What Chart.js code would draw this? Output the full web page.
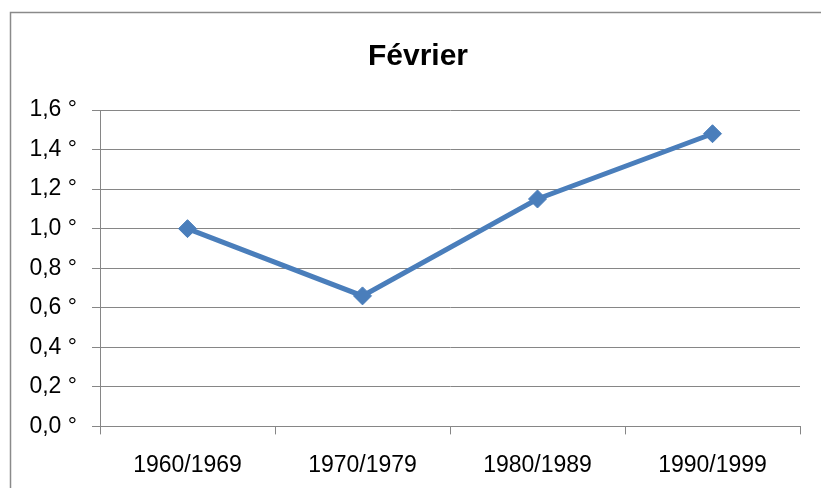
<!DOCTYPE html>
<html lang="fr">
<head>
<meta charset="utf-8">
<title>Février</title>
<script src="https://cdn.jsdelivr.net/npm/chart.js@4.4.1/dist/chart.umd.min.js"></script>
<style>
    html, body { margin: 0; padding: 0; background: #ffffff; overflow: hidden; }
    #fevrierChart { display: block; }
</style>
</head>
<body>
<canvas id="fevrierChart" width="826" height="488"></canvas>
<script>
// Data: average temperature gap per decade
const decades = ["1960/1969", "1970/1979", "1980/1989", "1990/1999"];
const fevrierValues = [1.0, 0.66, 1.15, 1.48];
const yTicks = [0, 0.2, 0.4, 0.6, 0.8, 1.0, 1.2, 1.4, 1.6];

const FONT = "'Liberation Sans', Arial, sans-serif";
const GRID_GREY = "#868686";
const LINE_BLUE = "#4A7EBB";

// Grey frame around the whole chart (runs off the right/bottom edge)
const frameBorder = {
    id: "frameBorder",
    beforeDraw(chart) {
        const ctx = chart.ctx;
        ctx.save();
        ctx.strokeStyle = "#8a8a8a";
        ctx.lineWidth = 1.5;
        ctx.beginPath();
        ctx.moveTo(10.5, chart.height + 2);
        ctx.lineTo(10.5, 12.5);
        ctx.lineTo(chart.width + 2, 12.5);
        ctx.stroke();
        ctx.restore();
    }
};

function createFevrierChart() {
    const ctx = document.getElementById("fevrierChart").getContext("2d");

    new Chart(ctx, {
        type: "line",
        data: {
            labels: decades,
            datasets: [{
                label: "Février",
                data: fevrierValues,
                yAxisID: "y",
                borderColor: LINE_BLUE,
                backgroundColor: LINE_BLUE,
                borderWidth: 5,
                tension: 0,
                pointStyle: "rectRot",
                pointRadius: 9,
                pointBorderWidth: 1,
                pointBackgroundColor: LINE_BLUE,
                pointBorderColor: LINE_BLUE
            }]
        },
        options: {
            responsive: false,
            devicePixelRatio: 1,
            animation: false,
            layout: {
                padding: { left: 10, right: 0, top: 0, bottom: -8 }
            },
            plugins: {
                legend: { display: false },
                tooltip: { enabled: false },
                title: {
                    display: true,
                    text: "Février",
                    color: "#000000",
                    font: { family: FONT, size: 30, weight: "bold", lineHeight: 1.2 },
                    padding: { top: 39, bottom: 35 }
                }
            },
            scales: {
                x: {
                    offset: true,
                    grid: {
                        offset: true,
                        drawOnChartArea: false,
                        drawTicks: true,
                        tickLength: 8,
                        color: GRID_GREY
                    },
                    border: { display: true, color: GRID_GREY, width: 1 },
                    ticks: {
                        color: "#000000",
                        padding: 17,
                        maxRotation: 0,
                        font: { family: FONT, size: 23, lineHeight: 1.2 }
                    }
                },
                y: {
                    min: yTicks[0],
                    max: yTicks[yTicks.length - 1],
                    afterFit(scale) { scale.width = 90; },
                    afterBuildTicks(scale) {
                        scale.ticks = yTicks.map(v => ({ value: v }));
                    },
                    grid: {
                        color: GRID_GREY,
                        lineWidth: 1,
                        drawTicks: true,
                        tickLength: 8
                    },
                    border: { display: true, color: GRID_GREY, width: 1 },
                    ticks: {
                        color: "#000000",
                        padding: 15,
                        font: { family: FONT, size: 23 },
                        callback: function(value) {
                            return value.toFixed(1).replace(".", ",") + " °";
                        }
                    }
                },
                // empty strip on the right so the plot ends before the frame edge
                yRight: {
                    position: "right",
                    display: true,
                    afterFit(scale) { scale.width = 26; },
                    grid: { display: false },
                    border: { display: false },
                    ticks: { display: false }
                }
            }
        },
        plugins: [frameBorder]
    });
}

document.addEventListener("DOMContentLoaded", createFevrierChart);
</script>
</body>
</html>
